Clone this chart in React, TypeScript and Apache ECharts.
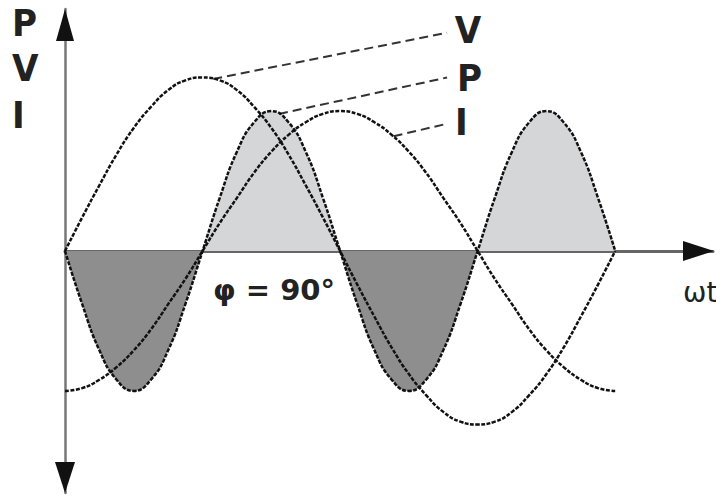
import React, { useEffect, useRef } from "react";
import * as echarts from "echarts";

// phase angle ωt in degrees
const angles = [0, 11.25, 22.5, 33.75, 45, 56.25, 67.5, 78.75, 90, 101.25, 112.5, 123.75, 135, 146.25, 157.5, 168.75, 180, 191.25, 202.5, 213.75, 225, 236.25, 247.5, 258.75, 270, 281.25, 292.5, 303.75, 315, 326.25, 337.5, 348.75, 360];
// voltage V
const vValues = [0, 0.24, 0.47, 0.69, 0.88, 1.03, 1.15, 1.22, 1.24, 1.22, 1.15, 1.03, 0.88, 0.69, 0.47, 0.24, 0, -0.24, -0.47, -0.69, -0.88, -1.03, -1.15, -1.22, -1.24, -1.22, -1.15, -1.03, -0.88, -0.69, -0.47, -0.24, 0];
// current I (lags 90°)
const iValues = [-1, -0.98, -0.92, -0.83, -0.71, -0.56, -0.38, -0.2, 0, 0.2, 0.38, 0.56, 0.71, 0.83, 0.92, 0.98, 1, 0.98, 0.92, 0.83, 0.71, 0.56, 0.38, 0.2, 0, -0.2, -0.38, -0.56, -0.71, -0.83, -0.92, -0.98, -1];
// power P = V·I
const pValues = [0, -0.38, -0.71, -0.92, -1, -0.92, -0.71, -0.38, 0, 0.38, 0.71, 0.92, 1, 0.92, 0.71, 0.38, 0, -0.38, -0.71, -0.92, -1, -0.92, -0.71, -0.38, 0, 0.38, 0.71, 0.92, 1, 0.92, 0.71, 0.38, 0];

// leader lines (data coords) from curves to labels
const leaderV = [[97, 1.23], [250, 1.56]];
const leaderP = [[140, 0.98], [250, 1.24]];
const leaderI = [[215, 0.82], [250, 0.91]];

const sideLabels = ["P", "V", "I"];
const curveLabels = ["V", "P", "I"];
const phaseLabel = "φ = 90°";
const axisLabel = "ωt";

const X_MAX = 424;
const Y_LIM = 1.73;

const CURVE = { color: "#111", width: 2.5, type: [4, 1.5] as any };
const LEADER = { color: "#333", width: 2, type: [9, 5] as any };
const LABEL_FONT = 'bold 38px "DejaVu Sans Condensed", "Liberation Sans Narrow", "DejaVu Sans", sans-serif';

export default function App() {
  const ref = useRef<HTMLDivElement>(null);
  useEffect(() => {
    document.body.style.margin = "0";
    const chart = echarts.init(ref.current!, null, { renderer: "svg" });
    const pair = (ys: number[]) => angles.map((a, k) => [a, ys[k]]);
    const txt = (text: string, x: number, y: number, font: string, align = "left") => ({
      type: "text",
      x,
      y,
      z: 100,
      style: { text, font, fill: "#222", align, verticalAlign: "middle", textAlign: align, textVerticalAlign: "middle" },
    });
    chart.setOption({
      animation: false,
      backgroundColor: "#fff",
      grid: { left: 65, right: 3, top: 9, bottom: 3 },
      xAxis: {
        type: "value",
        min: 0,
        max: X_MAX,
        axisLine: { show: true, onZero: true, lineStyle: { color: "#666", width: 3 } },
        axisTick: { show: false },
        axisLabel: { show: false },
        splitLine: { show: false },
      },
      yAxis: {
        type: "value",
        min: -Y_LIM,
        max: Y_LIM,
        axisLine: { show: true, lineStyle: { color: "#777", width: 2.5 } },
        axisTick: { show: false },
        axisLabel: { show: false },
        splitLine: { show: false },
      },
      visualMap: {
        type: "piecewise",
        show: false,
        dimension: 1,
        seriesIndex: 0,
        pieces: [
          { gte: -5, lt: 0, color: "#8e8e8e" },
          { gte: 0, lte: 5, color: "#d4d6d8" },
        ],
      },
      series: [
        {
          type: "line",
          data: pair(pValues),
          smooth: true,
          showSymbol: false,
          lineStyle: { width: 0 },
          areaStyle: { opacity: 1 },
          z: 1,
          silent: true,
        },
        { type: "line", data: pair(vValues), smooth: true, showSymbol: false, lineStyle: CURVE, z: 3 },
        { type: "line", data: pair(iValues), smooth: true, showSymbol: false, lineStyle: CURVE, z: 3 },
        { type: "line", data: pair(pValues), smooth: true, showSymbol: false, lineStyle: CURVE, z: 3 },
        { type: "line", data: leaderV, showSymbol: false, lineStyle: LEADER, z: 2 },
        { type: "line", data: leaderP, showSymbol: false, lineStyle: LEADER, z: 2 },
        { type: "line", data: leaderI, showSymbol: false, lineStyle: LEADER, z: 2 },
      ],
      graphic: [
        { type: "polygon", z: 100, shape: { points: [[65, 9], [74, 41], [56, 41]] }, style: { fill: "#111" } },
        { type: "polygon", z: 100, shape: { points: [[65, 493], [75, 462], [55, 462]] }, style: { fill: "#111" } },
        { type: "polygon", z: 100, shape: { points: [[714, 251], [683, 241], [683, 261]] }, style: { fill: "#111" } },
        txt(sideLabels[0], 12, 23, LABEL_FONT),
        txt(sideLabels[1], 12, 68, LABEL_FONT),
        txt(sideLabels[2], 12, 115, LABEL_FONT),
        txt(curveLabels[0], 468, 30, LABEL_FONT, "center"),
        txt(curveLabels[1], 457, 78, LABEL_FONT),
        txt(curveLabels[2], 455, 122, LABEL_FONT),
        txt(phaseLabel, 213, 290, 'bold 29px "DejaVu Sans", sans-serif'),
        txt(axisLabel, 683, 292, '28px "DejaVu Sans", sans-serif'),
      ],
    });
    return () => chart.dispose();
  }, []);
  return <div ref={ref} style={{ width: 716, height: 496 }} />;
}
